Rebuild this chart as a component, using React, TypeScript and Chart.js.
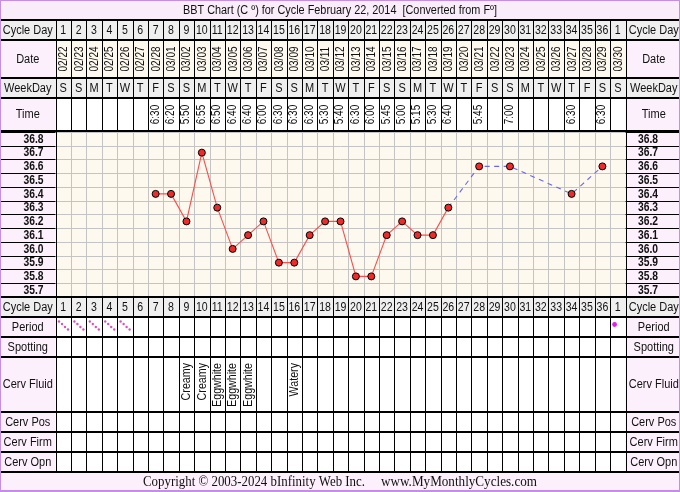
import { useEffect, useRef } from 'react';
import { Chart, registerables } from 'chart.js';

Chart.register(...registerables);

const SANS = '"Liberation Sans", Arial, sans-serif';
const SERIF = '"Liberation Serif", "Times New Roman", serif';

const titleText = 'BBT Chart (C º) for Cycle February 22, 2014  [Converted from Fº]';
const copyrightText = 'Copyright © 2003-2024 bInfinity Web Inc.';
const siteText = 'www.MyMonthlyCycles.com';

const cycleDays = [1, 2, 3, 4, 5, 6, 7, 8, 9, 10, 11, 12, 13, 14, 15, 16, 17, 18, 19, 20, 21, 22, 23, 24, 25, 26, 27, 28, 29, 30, 31, 32, 33, 34, 35, 36, 1];
const dates = ['02/22', '02/23', '02/24', '02/25', '02/26', '02/27', '02/28', '03/01', '03/02', '03/03', '03/04', '03/05', '03/06', '03/07', '03/08', '03/09', '03/10', '03/11', '03/12', '03/13', '03/14', '03/15', '03/16', '03/17', '03/18', '03/19', '03/20', '03/21', '03/22', '03/23', '03/24', '03/25', '03/26', '03/27', '03/28', '03/29', '03/30'];
const weekDays = ['S', 'S', 'M', 'T', 'W', 'T', 'F', 'S', 'S', 'M', 'T', 'W', 'T', 'F', 'S', 'S', 'M', 'T', 'W', 'T', 'F', 'S', 'S', 'M', 'T', 'W', 'T', 'F', 'S', 'S', 'M', 'T', 'W', 'T', 'F', 'S', 'S'];
const times = ['', '', '', '', '', '', '6:30', '6:20', '5:50', '6:55', '6:50', '6:40', '6:40', '6:00', '6:30', '6:30', '6:30', '5:30', '5:40', '6:30', '6:00', '5:45', '5:00', '5:15', '5:30', '6:40', '', '5:45', '', '7:00', '', '', '', '6:30', '', '6:30', ''];
const temps: (number | null)[] = [null, null, null, null, null, null, 36.4, 36.4, 36.2, 36.7, 36.3, 36.0, 36.1, 36.2, 35.9, 35.9, 36.1, 36.2, 36.2, 35.8, 35.8, 36.1, 36.2, 36.1, 36.1, 36.3, null, 36.6, null, 36.6, null, null, null, 36.4, null, 36.6, null];
const tempTicks = [36.8, 36.7, 36.6, 36.5, 36.4, 36.3, 36.2, 36.1, 36.0, 35.9, 35.8, 35.7];
const period = ['flow', 'flow', 'flow', 'flow', 'flow', '', '', '', '', '', '', '', '', '', '', '', '', '', '', '', '', '', '', '', '', '', '', '', '', '', '', '', '', '', '', '', 'dot'];
const cervFluid = ['', '', '', '', '', '', '', '', 'Creamy', 'Creamy', 'Eggwhite', 'Eggwhite', 'Eggwhite', '', '', 'Watery', '', '', '', '', '', '', '', '', '', '', '', '', '', '', '', '', '', '', '', '', ''];
const topLabels = ['Cycle Day', 'Date', 'WeekDay', 'Time'];
const bottomLabels = ['Cycle Day', 'Period', 'Spotting', 'Cerv Fluid', 'Cerv Pos', 'Cerv Firm', 'Cerv Opn'];

const GRAY = '#efefef';
const PINK = '#fcf0fc';
const CREAM = '#fdf9ee';
const WHITE = '#ffffff';
const TITLE_BG = '#f9edf9';
const PURPLE = '#c48ee8';
const GRID = '#c4c4c4';
const INK = '#111111';

// row bands (layout only)
const topRows = [
  { y0: 20, y1: 40, labelBg: GRAY, cellBg: GRAY },
  { y0: 40, y1: 78, labelBg: PINK, cellBg: CREAM },
  { y0: 78, y1: 98, labelBg: GRAY, cellBg: GRAY },
  { y0: 98, y1: 131, labelBg: PINK, cellBg: WHITE },
];
const bottomRows = [
  { y0: 297, y1: 317, labelBg: GRAY, cellBg: GRAY },
  { y0: 317, y1: 337, labelBg: PINK, cellBg: WHITE },
  { y0: 337, y1: 357, labelBg: PINK, cellBg: WHITE },
  { y0: 357, y1: 412, labelBg: PINK, cellBg: WHITE },
  { y0: 412, y1: 432, labelBg: PINK, cellBg: WHITE },
  { y0: 432, y1: 452, labelBg: PINK, cellBg: WHITE },
  { y0: 452, y1: 472, labelBg: PINK, cellBg: WHITE },
];

type TOpt = { size?: number; bold?: boolean; align?: CanvasTextAlign; sx?: number; rot?: boolean; font?: string; color?: string; baseline?: CanvasTextBaseline; width?: number };

function drawText(ctx: CanvasRenderingContext2D, s: string, x: number, y: number, o: TOpt = {}) {
  const size = o.size ?? 12;
  ctx.save();
  ctx.font = `${o.bold ? 'bold ' : ''}${size}px ${o.font ?? SANS}`;
  let sx = o.sx ?? 0.88;
  if (o.width) sx = o.width / ctx.measureText(s).width;
  ctx.translate(x, y);
  if (o.rot) ctx.rotate(-Math.PI / 2);
  ctx.scale(sx, 1);
  ctx.fillStyle = o.color ?? INK;
  ctx.textAlign = o.align ?? 'center';
  ctx.textBaseline = o.baseline ?? 'middle';
  ctx.fillText(s, 0, 0);
  ctx.restore();
}

const tablePlugin = {
  id: 'bbtTable',
  beforeDatasetsDraw(chart: any) {
    const ctx: CanvasRenderingContext2D = chart.ctx;
    const xs = chart.scales.x;
    const ys = chart.scales.y;
    const area = chart.chartArea;
    const n = cycleDays.length;
    const edge = (i: number) => xs.getPixelForValue(i - 0.5);
    const cx = (i: number) => xs.getPixelForValue(i);
    const L = edge(0);
    const R = edge(n);
    const W = chart.width;
    const H = chart.height;

    ctx.save();
    // background
    ctx.fillStyle = WHITE;
    ctx.fillRect(0, 0, W, H);
    ctx.fillStyle = TITLE_BG;
    ctx.fillRect(0, 0, W, 20);
    ctx.fillStyle = PINK;
    ctx.fillRect(0, 472, W, H - 472);

    const bands = [...topRows, ...bottomRows];
    bands.forEach((r) => {
      ctx.fillStyle = r.labelBg;
      ctx.fillRect(0, r.y0, W, r.y1 - r.y0);
      ctx.fillStyle = r.cellBg;
      ctx.fillRect(L, r.y0, R - L, r.y1 - r.y0);
    });
    // temperature area
    ctx.fillStyle = PINK;
    ctx.fillRect(0, area.top, W, area.bottom - area.top);
    ctx.fillStyle = CREAM;
    ctx.fillRect(L, area.top, R - L, area.bottom - area.top);

    // temperature grid lines
    const lo = Math.min(...tempTicks) - 0.05;
    for (let k = 0; k <= tempTicks.length; k++) {
      const y = Math.round(ys.getPixelForValue(lo + k * 0.1)) + 0.5;
      ctx.strokeStyle = GRID;
      ctx.lineWidth = 1;
      ctx.beginPath();
      ctx.moveTo(L, y);
      ctx.lineTo(R, y);
      ctx.stroke();
      ctx.strokeStyle = '#000';
      ctx.beginPath();
      ctx.moveTo(0, y);
      ctx.lineTo(L, y);
      ctx.moveTo(R, y);
      ctx.lineTo(W, y);
      ctx.stroke();
    }

    // vertical lines
    for (let i = 0; i <= n; i++) {
      const x = Math.round(edge(i)) + 0.5;
      const outer = i === 0 || i === n;
      ctx.lineWidth = 1;
      ctx.strokeStyle = '#000';
      ctx.beginPath();
      ctx.moveTo(x, 20);
      ctx.lineTo(x, outer ? 472 : area.top);
      if (!outer) {
        ctx.moveTo(x, area.bottom);
        ctx.lineTo(x, 472);
      }
      ctx.stroke();
      if (!outer) {
        ctx.strokeStyle = GRID;
        ctx.beginPath();
        ctx.moveTo(x, area.top);
        ctx.lineTo(x, area.bottom);
        ctx.stroke();
      }
    }

    // thick row separators
    ctx.fillStyle = '#000';
    [20, 40, 78, 98, 131, 297, 317, 337, 357, 412, 432, 452, 472].forEach((b) => {
      ctx.fillRect(1, b - 1, W - 2, 2);
    });

    // title & footer
    drawText(ctx, titleText, W / 2, 10.5, { size: 12, width: 314 });
    drawText(ctx, copyrightText, 143, 486, { size: 14, font: SERIF, align: 'left', baseline: 'alphabetic', width: 222 });
    drawText(ctx, siteText, 381, 486, { size: 14, font: SERIF, align: 'left', baseline: 'alphabetic', width: 156 });

    // row labels
    const leftC = L / 2;
    const rightC = (R + W) / 2;
    topLabels.forEach((t, i) => {
      const r = topRows[i];
      const y = (r.y0 + r.y1) / 2 + 0.5;
      drawText(ctx, t, leftC, y, { size: 12.5 });
      drawText(ctx, t, rightC + 1, y, { size: 12.5 });
    });
    bottomLabels.forEach((t, i) => {
      const r = bottomRows[i];
      const y = (r.y0 + r.y1) / 2 + 0.5;
      drawText(ctx, t, leftC, y, { size: 12.5 });
      drawText(ctx, t, rightC + 1, y, { size: 12.5 });
    });

    // temperature tick labels
    tempTicks.forEach((t) => {
      const y = ys.getPixelForValue(t) + 0.5;
      const s = t.toFixed(1);
      drawText(ctx, s, L - 12, y, { size: 12, bold: true, align: 'right', sx: 0.86 });
      drawText(ctx, s, R + 12.5, y, { size: 12, bold: true, align: 'left', sx: 0.86 });
    });

    // per-column cells
    for (let i = 0; i < n; i++) {
      const x = cx(i);
      drawText(ctx, String(cycleDays[i]), x, 30.5, { size: 12 });
      drawText(ctx, String(cycleDays[i]), x, 307.5, { size: 12 });
      drawText(ctx, dates[i], x + 0.5, 59, { size: 12.5, rot: true, sx: 0.8 });
      drawText(ctx, weekDays[i], x, 88.5, { size: 12.5 });
      if (times[i]) drawText(ctx, times[i], x - 0.5, 114.5, { size: 12.5, rot: true, sx: 0.8 });
      if (cervFluid[i]) drawText(ctx, cervFluid[i], x + 0.5, 363, { size: 12, rot: true, align: 'right', sx: 0.89 });
      const left = edge(i);
      if (period[i] === 'flow') {
        ctx.fillStyle = '#e050b8';
        [[3.5, 4.5], [6.5, 7], [9.5, 10], [12.5, 12.5]].forEach(([dx, dy]) => {
          ctx.beginPath();
          ctx.arc(left + dx, 317 + dy, 1.2, 0, Math.PI * 2);
          ctx.fill();
        });
      } else if (period[i] === 'dot') {
        ctx.fillStyle = '#e020e8';
        ctx.beginPath();
        ctx.arc(left + 4.5, 324.5, 2.4, 0, Math.PI * 2);
        ctx.fill();
      }
    }

    // outer purple frame
    ctx.strokeStyle = PURPLE;
    ctx.lineWidth = 1;
    ctx.strokeRect(0.5, 0.5, W - 1, H - 1);
    ctx.beginPath();
    ctx.moveTo(0, H - 1.5);
    ctx.lineTo(W, H - 1.5);
    ctx.stroke();
    ctx.restore();
  },
};

export default function App() {
  const ref = useRef<HTMLCanvasElement>(null);
  useEffect(() => {
    if (!ref.current) return;
    const RED = '#ff4c4c';
    const BLUE = '#6868ee';
    const gap = (c: any) => !!(c.p0.skip || c.p1.skip);
    const chart = new Chart(ref.current, {
      type: 'line',
      data: {
        labels: cycleDays.map((d, i) => `${d}-${i}`),
        datasets: [
          {
            data: temps,
            spanGaps: true,
            borderColor: RED,
            borderWidth: 1.1,
            tension: 0,
            pointRadius: 3.5,
            pointBorderWidth: 1,
            pointBorderColor: '#000',
            pointBackgroundColor: '#ee2a2a',
            segment: {
              borderColor: (c: any) => (gap(c) ? BLUE : RED),
              borderDash: (c: any) => (gap(c) ? [5, 4.5] : []),
            },
          } as any,
        ],
      },
      options: {
        responsive: false,
        animation: false,
        devicePixelRatio: 1,
        events: [],
        layout: { autoPadding: false, padding: { left: 55.5, right: 54.5, top: 132, bottom: 195 } },
        scales: {
          x: { type: 'category', offset: true, display: false },
          y: { type: 'linear', min: Math.min(...tempTicks) - 0.05, max: Math.max(...tempTicks) + 0.05, display: false },
        },
        plugins: { legend: { display: false }, tooltip: { enabled: false }, title: { display: false } },
      },
      plugins: [tablePlugin],
    });
    return () => chart.destroy();
  }, []);
  return (
    <div style={{ position: 'fixed', left: 0, top: 0, width: 680, height: 492, background: '#fff' }}>
      <canvas ref={ref} width={680} height={492} style={{ display: 'block', width: 680, height: 492 }} />
    </div>
  );
}
